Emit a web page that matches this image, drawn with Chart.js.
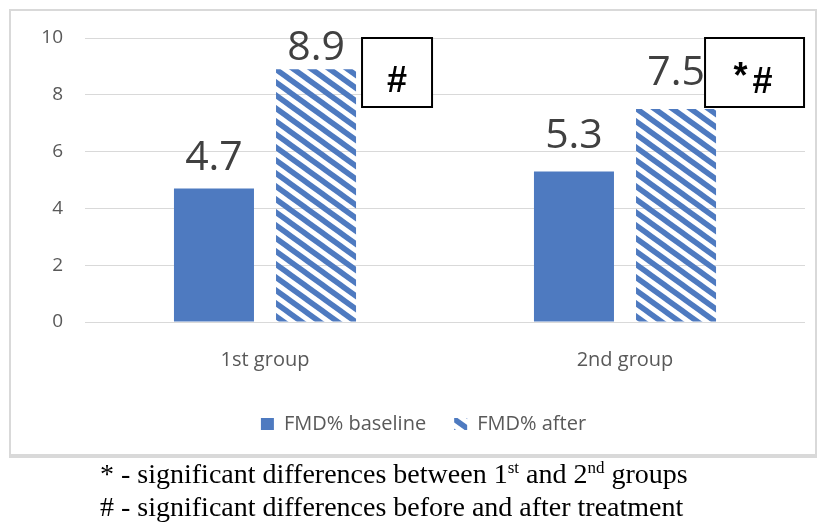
<!DOCTYPE html>
<html>
<head>
<meta charset="utf-8">
<script src="https://cdn.jsdelivr.net/npm/chart.js@4"></script>
<style>
  body { margin: 0; background: #fff; width: 820px; height: 523px; overflow: hidden; position: relative; }
  #frame { position: absolute; left: 9px; top: 9px; width: 804px; height: 443px; border: 2px solid #d9d9d9; border-bottom-width: 4px; }
  #chart { position: absolute; left: 0; top: 0; }
  .note { position: absolute; left: 100px; font-family: "Liberation Serif", serif; font-size: 28px; color: #000; white-space: nowrap; }
  .note sup { font-size: 17px; vertical-align: 10px; line-height: 0; }
</style>
</head>
<body>
<div id="frame"></div>
<canvas id="chart" width="820" height="460"></canvas>
<div class="note" style="top:458px">* - significant differences between 1<sup>st</sup> and 2<sup>nd</sup> groups</div>
<div class="note" style="top:491px"># - significant differences before and after treatment</div>
<script>
  const groups = ['1st group', '2nd group'];
  const baseline = [4.7, 5.3];
  const after = [8.9, 7.5];
  const yTicks = [0, 2, 4, 6, 8, 10];
  const marks = ['#', '*#'];

  const blue = '#4e7ac0';

  // diagonal hatch for the "after" bars
  function hatch() {
    const w = 18, h = 13;
    const c = document.createElement('canvas');
    c.width = w; c.height = h;
    const g = c.getContext('2d');
    g.strokeStyle = blue;
    g.lineWidth = 5.5;
    for (let k = -1; k <= 1; k++) {
      g.beginPath();
      g.moveTo(k * w - w, -h);
      g.lineTo(k * w + 2 * w, 2 * h);
      g.stroke();
    }
    return g.createPattern(c, 'repeat');
  }
  const stripes = hatch();

  // label offsets from bar top (center of text), set by hand like in the original
  const labelShift = [[-30, -21], [-35, -36]];
  // boxed marks next to the "after" bars: left edge relative to bar right edge
  const boxShift = [6, -11];

  const valueLabels = {
    id: 'valueLabels',
    afterDatasetsDraw(chart) {
      const ctx = chart.ctx;
      ctx.save();
      ctx.font = '41px "Open Sans"';
      ctx.fillStyle = '#404040';
      ctx.textAlign = 'center';
      ctx.textBaseline = 'middle';
      chart.data.datasets.forEach((ds, di) => {
        chart.getDatasetMeta(di).data.forEach((bar, i) => {
          ctx.fillText(ds.data[i].toFixed(1), bar.x, bar.y + labelShift[i][di]);
        });
      });
      // boxes with significance marks
      const y = chart.scales.y;
      const top = y.getPixelForValue(10);
      chart.getDatasetMeta(1).data.forEach((bar, i) => {
        const left = bar.x + bar.width / 2 + boxShift[i];
        const bw = i === 0 ? 70 : 99;
        ctx.fillStyle = '#fff';
        ctx.fillRect(left, top, bw, 69);
        ctx.strokeStyle = '#000';
        ctx.lineWidth = 2;
        ctx.strokeRect(left, top, bw, 69);
        ctx.fillStyle = '#000';
        ctx.textBaseline = 'alphabetic';
        ctx.font = 'bold 36px "Liberation Sans"';
        if (marks[i] === '#') {
          ctx.fillText('#', left + bw / 2, top + 54);
        } else {
          ctx.fillText('*', left + bw / 2 - 14, top + 50);
          ctx.fillText('#', left + bw / 2 + 8, top + 55);
        }
      });
      ctx.restore();
    }
  };

  // the legend in the original sits a bit right of the middle
  const legendShift = {
    id: 'legendShift',
    afterLayout(chart) { chart.legend.left += 22; }
  };

  new Chart(document.getElementById('chart'), {
    type: 'bar',
    data: {
      labels: groups,
      datasets: [
        { label: 'FMD% baseline', data: baseline, backgroundColor: blue },
        { label: 'FMD% after', data: after, backgroundColor: stripes }
      ]
    },
    options: {
      responsive: false,
      animation: false,
      datasets: { bar: { categoryPercentage: 0.567, barPercentage: 0.784 } },
      layout: { padding: { left: 20, right: 15, top: 38, bottom: 16 } },
      scales: {
        x: {
          grid: { display: false },
          border: { display: false },
          ticks: { color: '#595959', font: { family: 'Open Sans', size: 20 }, padding: 18 },
          afterFit(s) { s.height = 64; }
        },
        y: {
          min: 0, max: 10,
          afterBuildTicks(s) { s.ticks = yTicks.map(v => ({ value: v })); },
          grid: { color: '#d9d9d9', drawTicks: false },
          border: { display: false },
          ticks: { color: '#595959', font: { family: 'Open Sans', size: 19 }, padding: 22 },
          afterFit(s) { s.width = 65; }
        }
      },
      plugins: {
        legend: {
          position: 'bottom',
          labels: {
            color: '#595959',
            font: { family: 'Open Sans', size: 20 },
            boxWidth: 13, boxHeight: 12,
            padding: 28
          }
        },
        tooltip: { enabled: false }
      }
    },
    plugins: [valueLabels, legendShift]
  });
</script>
</body>
</html>
